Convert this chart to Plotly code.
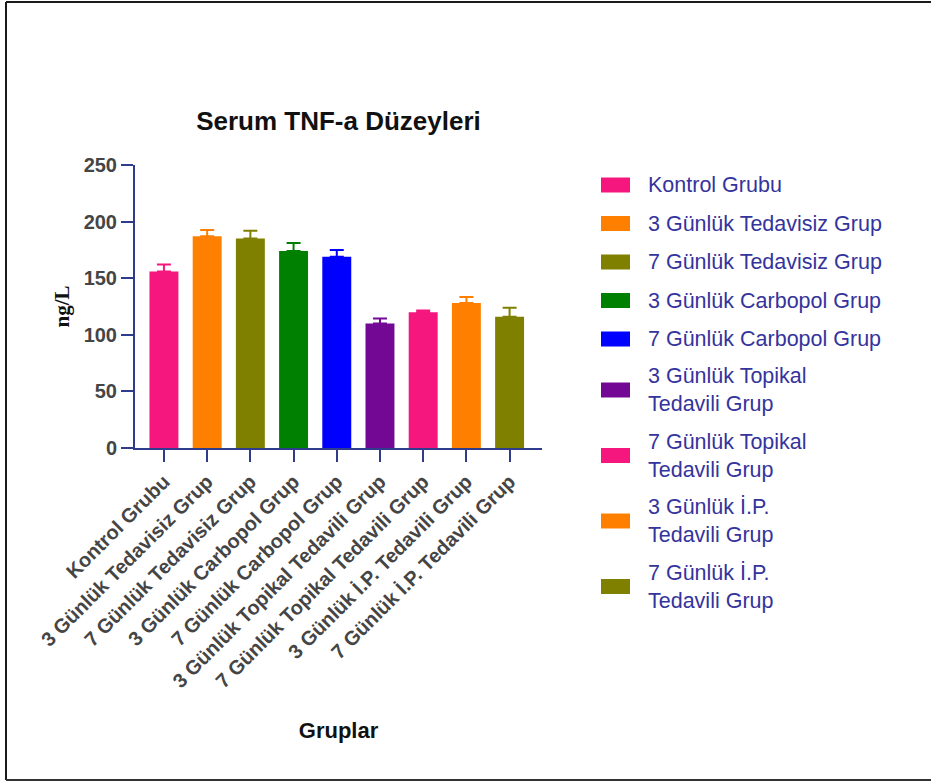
import plotly.graph_objects as go

# Serum TNF-a levels (ng/L) per group, mean with upper error bar
groups = [
    "Kontrol Grubu",
    "3 Günlük Tedavisiz Grup",
    "7 Günlük Tedavisiz Grup",
    "3 Günlük Carbopol Grup",
    "7 Günlük Carbopol Grup",
    "3 Günlük Topikal Tedavili Grup",
    "7 Günlük Topikal Tedavili Grup",
    "3 Günlük İ.P. Tedavili Grup",
    "7 Günlük İ.P. Tedavili Grup",
]
legend_names = [
    "Kontrol Grubu",
    "3 Günlük Tedavisiz Grup",
    "7 Günlük Tedavisiz Grup",
    "3 Günlük Carbopol Grup",
    "7 Günlük Carbopol Grup",
    "3 Günlük Topikal<br>Tedavili Grup",
    "7 Günlük Topikal<br>Tedavili Grup",
    "3 Günlük İ.P.<br>Tedavili Grup",
    "7 Günlük İ.P.<br>Tedavili Grup",
]
means = [156, 187, 185, 174, 169, 110, 120, 128, 116]
errors = [6, 5.5, 7, 7, 6, 4.5, 1.5, 5.5, 8]
colors = ["#F5167E", "#FF8000", "#808000", "#008000", "#0000FF",
          "#730895", "#F5167E", "#FF8000", "#808000"]
y_ticks = [0, 50, 100, 150, 200, 250]

AXIS = "#2F3C8C"
TICKTXT = "#454545"
LEGTXT = "#34349C"

W, H = 931, 783
L, R, T, B = 135, 389, 165, 335
PW, PH = W - L - R, H - T - B


def px_x(px):
    return (px - L) / PW


def px_y(py):
    return (H - B - py) / PH


fig = go.Figure()
for name, m, e, c in zip(groups, means, errors, colors):
    fig.add_trace(go.Bar(
        x=[name], y=[m], name=name, width=0.67,
        marker=dict(color=c, line=dict(width=0)),
        error_y=dict(type="data", array=[e], arrayminus=[0], symmetric=False,
                     color=c, thickness=2, width=7),
        showlegend=False,
    ))

# legend drawn as colour swatches with labels on the right
shapes = []
annotations = []
row_y = 185
for i, (name, c) in enumerate(zip(legend_names, colors)):
    two_line = "<br>" in name
    if i > 0:
        prev_two = "<br>" in legend_names[i - 1]
        row_y += 65.5 if (two_line and prev_two) else (38.5 if not two_line else 51)
    shapes.append(dict(type="rect", xref="paper", yref="paper",
                       x0=px_x(601), x1=px_x(630),
                       y0=px_y(row_y + 7.5), y1=px_y(row_y - 7.5),
                       fillcolor=c, line=dict(width=0)))
    annotations.append(dict(xref="paper", yref="paper", x=px_x(646), y=px_y(row_y),
                            xanchor="left", yanchor="middle", align="left",
                            text=name, showarrow=False,
                            font=dict(family="Liberation Sans, Arial", size=21.5, color=LEGTXT)))

# outer frame: top, left and bottom edges
frame = dict(color="#1a1a1a", width=2)
shapes.append(dict(type="line", xref="paper", yref="paper",
                   x0=px_x(6), x1=px_x(W), y0=px_y(2), y1=px_y(2), line=frame))
shapes.append(dict(type="line", xref="paper", yref="paper",
                   x0=px_x(6), x1=px_x(6), y0=px_y(2), y1=px_y(780), line=frame))
shapes.append(dict(type="line", xref="paper", yref="paper",
                   x0=px_x(6), x1=px_x(W), y0=px_y(780), y1=px_y(780),
                   line=dict(color="#333333", width=2)))

fig.update_layout(
    width=W, height=H,
    margin=dict(l=L, r=R, t=T, b=B),
    paper_bgcolor="white", plot_bgcolor="white",
    barmode="overlay",
    title=dict(text="<b>Serum TNF-a Düzeyleri</b>", x=0.5, xref="paper", xanchor="center",
               y=1 - 121 / H, yref="container", yanchor="middle",
               font=dict(family="Liberation Sans, Arial", size=26, color="#111111")),
    shapes=shapes,
    annotations=annotations,
    font=dict(family="Liberation Sans, Arial"),
)

fig.update_xaxes(
    categoryorder="array", categoryarray=groups,
    range=[-0.67, 8.75],
    showline=True, linecolor=AXIS, linewidth=2,
    ticks="outside", ticklen=12, tickwidth=2, tickcolor=AXIS,
    tickangle=-45,
    tickfont=dict(family="Liberation Sans, Arial", size=20, color=TICKTXT, weight="bold"),
    showgrid=False, zeroline=False,
    title=dict(text="<b>Gruplar</b>", standoff=32,
               font=dict(family="Liberation Sans, Arial", size=22, color="#111111")),
)
fig.update_yaxes(
    range=[0, 250], tickvals=y_ticks,
    showline=True, linecolor=AXIS, linewidth=2,
    ticks="outside", ticklen=12, tickwidth=2, tickcolor=AXIS,
    tickfont=dict(family="Liberation Sans, Arial", size=20, color=TICKTXT, weight="bold"),
    showgrid=False, zeroline=False,
    title=dict(text="<b>ng/L</b>", standoff=8,
               font=dict(family="Liberation Serif, Times New Roman", size=21, color="#111111")),
)

fig.write_html("out.html")
